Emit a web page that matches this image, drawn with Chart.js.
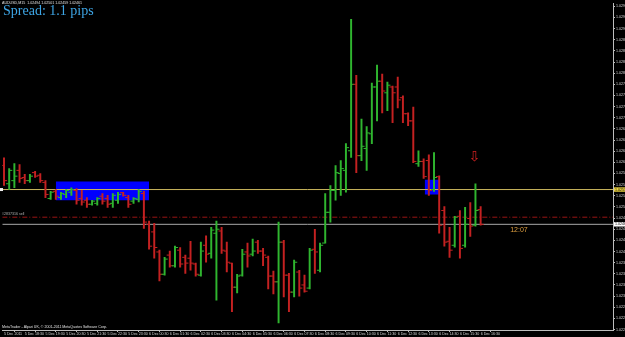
<!DOCTYPE html>
<html>
<head>
<meta charset="utf-8">
<script src="https://cdn.jsdelivr.net/npm/chart.js@4.4.1/dist/chart.umd.min.js"></script>
<style>
  html, body { margin: 0; padding: 0; background: #000; overflow: hidden; }
  #wrap { width: 625px; height: 337px; }
</style>
</head>
<body>
<div id="wrap"><canvas id="chart" width="625" height="337"></canvas></div>
<script>
// ── Data (AUDUSD M15, prices in points: 102461 = 1.02461) ─────────────

const timeLabels = [
  '5 Dec 2011', '5 Dec 18:30', '5 Dec 19:30', '5 Dec 20:30', '5 Dec 21:30', '5 Dec 22:30',
  '5 Dec 23:30', '6 Dec 00:30', '6 Dec 01:30', '6 Dec 02:30', '6 Dec 03:30', '6 Dec 04:30',
  '6 Dec 05:30', '6 Dec 06:30', '6 Dec 07:30', '6 Dec 08:30', '6 Dec 09:30', '6 Dec 10:30',
  '6 Dec 11:30', '6 Dec 12:30', '6 Dec 13:30', '6 Dec 14:30', '6 Dec 15:30', '6 Dec 16:30',
];
const timeTickBars = [0, 4, 8, 12, 16, 20, 24, 28, 32, 36, 40, 44, 48, 52, 56, 60, 64, 68, 72, 76, 80, 84, 88, 92];

const priceTicks = [
  102225, 102250, 102275, 102300, 102325, 102350, 102375, 102400, 102425, 102450,
  102475, 102500, 102525, 102550, 102575, 102600, 102625, 102650, 102675, 102700,
  102725, 102750, 102775, 102800, 102825, 102850, 102875, 102900, 102925, 102950,
];

const opens = [
  102593, 102552, 102559, 102582, 102566, 102559, 102577, 102571, 102555, 102519,
  102535, 102521, 102528, 102533, 102537, 102519, 102515, 102506, 102508, 102524,
  102519, 102508, 102515, 102532, 102521, 102513, 102517, 102530, 102461, 102444,
  102399, 102349, 102392, 102368, 102403, 102387, 102385, 102372, 102347, 102414,
  102396, 102441, 102446, 102401, 102374, 102320, 102347, 102399, 102394, 102421,
  102401, 102387, 102345, 102332, 102421, 102347, 102309, 102354, 102325, 102318,
  102405, 102358, 102419, 102488, 102537, 102575, 102582, 102626, 102775, 102615,
  102631, 102664, 102769, 102782, 102756, 102769, 102769, 102745, 102709, 102693,
  102597, 102602, 102604, 102539, 102568, 102492, 102423, 102414, 102479, 102414,
  102474, 102459, 102494,
];
const highs = [
  102610, 102586, 102597, 102595, 102573, 102573, 102580, 102575, 102559, 102535,
  102539, 102533, 102539, 102543, 102541, 102537, 102521, 102515, 102521, 102530,
  102526, 102530, 102533, 102533, 102526, 102521, 102539, 102535, 102468, 102463,
  102403, 102387, 102401, 102412, 102409, 102392, 102423, 102374, 102421, 102435,
  102454, 102468, 102454, 102421, 102374, 102349, 102405, 102419, 102428, 102425,
  102407, 102390, 102356, 102466, 102425, 102351, 102381, 102358, 102347, 102407,
  102450, 102419, 102530, 102548, 102593, 102604, 102642, 102921, 102795, 102697,
  102680, 102778, 102818, 102798, 102780, 102771, 102791, 102749, 102711, 102724,
  102626, 102608, 102617, 102622, 102570, 102501, 102454, 102479, 102492, 102499,
  102510, 102552, 102501,
];
const lows = [
  102548, 102539, 102543, 102555, 102552, 102555, 102566, 102555, 102521, 102517,
  102517, 102517, 102521, 102526, 102506, 102504, 102499, 102504, 102504, 102506,
  102499, 102499, 102508, 102524, 102499, 102508, 102511, 102452, 102405, 102385,
  102334, 102347, 102365, 102365, 102365, 102351, 102358, 102345, 102345, 102376,
  102385, 102291, 102396, 102354, 102265, 102307, 102345, 102365, 102390, 102396,
  102368, 102316, 102305, 102240, 102298, 102265, 102298, 102300, 102309, 102316,
  102351, 102354, 102419, 102466, 102515, 102526, 102533, 102611, 102577, 102604,
  102582, 102642, 102693, 102711, 102716, 102689, 102722, 102689, 102682, 102599,
  102591, 102564, 102526, 102535, 102441, 102412, 102387, 102410, 102385, 102410,
  102434, 102457, 102459,
];
const closes = [
  102559, 102582, 102569, 102564, 102559, 102569, 102569, 102559, 102528, 102533,
  102524, 102530, 102537, 102539, 102515, 102511, 102506, 102513, 102519, 102513,
  102506, 102526, 102528, 102526, 102506, 102519, 102535, 102466, 102412, 102409,
  102349, 102383, 102368, 102409, 102372, 102374, 102374, 102349, 102401, 102394,
  102448, 102450, 102403, 102376, 102320, 102345, 102394, 102390, 102401, 102401,
  102392, 102345, 102332, 102421, 102347, 102309, 102376, 102318, 102311, 102403,
  102399, 102414, 102488, 102537, 102577, 102586, 102633, 102775, 102615, 102636,
  102666, 102769, 102782, 102760, 102773, 102756, 102740, 102709, 102693, 102602,
  102602, 102568, 102537, 102566, 102459, 102421, 102403, 102477, 102407, 102461,
  102457, 102492, 102461,
];

// chart objects
const yellowLevel = 102539;
const bidLevel    = 102461;
const orderLevel  = 102477;
const rectA = { fromBar: 10, toBar: 28, top: 102557, bottom: 102515 };
const rectB = { fromBar: 81.2, toBar: 84.2, top: 102561, bottom: 102528 };
const arrowMark = { bar: 90.8, price: 102611 };
const timerMark = { bar: 97.7, price: 102448, text: '12:07' };

// ── Look ───────────────────────────────────────────────────

const GREEN = '#2fb52f';
const RED   = '#c42121';
const AXIS  = '#bdbdbd';
const X_MIN = -0.33;
const X_MAX = 117.55;
const TINY  = '3.6px "Liberation Sans", Arial, sans-serif';

const barColors = closes.map((c, i) => (c >= opens[i] ? GREEN : RED));
const fmtPrice = v => (v / 1e5).toFixed(5);

function rectDataset(r) {
  return {
    type: 'line',
    data: [{ x: r.fromBar, y: r.top }, { x: r.toBar, y: r.top }],
    borderWidth: 0,
    pointRadius: 0,
    backgroundColor: '#0000ff',
    fill: { value: r.bottom },
    order: 10,
  };
}

function levelDataset(level, color, dash) {
  return {
    type: 'line',
    data: [{ x: X_MIN, y: level }, { x: X_MAX, y: level }],
    borderColor: color,
    borderWidth: 1,
    borderDash: dash || [],
    pointRadius: 0,
    fill: false,
    order: 5,
  };
}

function tickDataset(values, shift) {
  return {
    type: 'line',
    showLine: false,
    data: values.map((v, i) => ({ x: i + shift, y: v })),
    pointStyle: 'line',
    pointRadius: 1.3,
    pointHoverRadius: 1.3,
    pointBorderWidth: 1,
    pointBorderColor: barColors,
    order: 1,
  };
}

// ── Overlay texts (MT4 labels) ─────────────────────────────

const overlay = {
  id: 'overlay',
  afterDraw(chart) {
    const { ctx, scales: { x, y }, chartArea } = chart;
    ctx.save();
    ctx.textBaseline = 'middle';
    ctx.textAlign = 'left';

    ctx.font = TINY;
    ctx.fillStyle = '#e0e0e0';
    ctx.fillText('AUDUSD,M15  ' + [opens[92], highs[92], lows[92], closes[92]].map(fmtPrice).join(' '), 2, 3);
    ctx.fillText('MetaTrader - Alpari UK, \u00a9 2001-2011 MetaQuotes Software Corp.', 2, 326.5);
    ctx.fillStyle = '#b0b0b0';
    ctx.fillText('#2837316 sell', 2, y.getPixelForValue(orderLevel) - 3);

    // small marker at the left end of the yellow line
    ctx.fillStyle = '#f0f0f0';
    ctx.fillRect(0, y.getPixelForValue(yellowLevel) - 1.5, 3, 3);

    ctx.font = '14px "Liberation Serif", "Times New Roman", serif';
    ctx.fillStyle = '#3ea6e6';
    ctx.textBaseline = 'alphabetic';
    ctx.fillText('Spread: 1.1 pips', 3, 15);

    ctx.textBaseline = 'middle';
    ctx.font = '7px "Liberation Sans", Arial, sans-serif';
    ctx.fillStyle = '#e0a040';
    ctx.fillText(timerMark.text, x.getPixelForValue(timerMark.bar), y.getPixelForValue(timerMark.price));

    ctx.font = '14px "DejaVu Sans", sans-serif';
    ctx.fillStyle = '#d02020';
    ctx.textAlign = 'center';
    ctx.fillText('\u21e9', x.getPixelForValue(arrowMark.bar), y.getPixelForValue(arrowMark.price));

    // price boxes on the right scale
    ctx.textAlign = 'left';
    ctx.font = TINY;
    [[yellowLevel, '#e8d040'], [bidLevel, '#ffffff']].forEach(([lvl, bg]) => {
      const py = y.getPixelForValue(lvl);
      ctx.fillStyle = bg;
      ctx.fillRect(chartArea.right + 1, py - 2.2, 12, 4.4);
      ctx.fillStyle = '#000';
      ctx.fillText(fmtPrice(lvl), chartArea.right + 2, py);
    });
    ctx.restore();
  },
};

// ── Chart ──────────────────────────────────────────────────

new Chart(document.getElementById('chart'), {
  type: 'bar',
  data: {
    datasets: [
      rectDataset(rectA),
      rectDataset(rectB),
      levelDataset(yellowLevel, '#c9b55c'),
      levelDataset(bidLevel, '#a8a8a8'),
      levelDataset(orderLevel, '#9c1414', [5, 2, 1, 2]),
      {
        type: 'bar',
        data: highs.map((h, i) => ({ x: i, y: [lows[i], h] })),
        backgroundColor: barColors,
        barThickness: 1.3,
        borderWidth: 0,
        grouped: false,
        order: 2,
      },
      tickDataset(opens, -0.35),
      tickDataset(closes, 0.35),
    ],
  },
  options: {
    responsive: false,
    devicePixelRatio: 1,
    animation: false,
    layout: { padding: { top: 2, left: 0, right: 0, bottom: 0 } },
    plugins: { legend: { display: false }, tooltip: { enabled: false } },
    scales: {
      x: {
        type: 'linear',
        min: X_MIN,
        max: X_MAX,
        offset: false,
        grid: { display: true, drawOnChartArea: false, drawTicks: true, tickLength: 2, color: AXIS },
        border: { display: true, color: AXIS },
        ticks: {
          autoSkip: false,
          maxRotation: 0,
          align: 'start',
          padding: 0,
          color: '#d8d8d8',
          font: { size: 3.6, family: '"Liberation Sans", Arial, sans-serif' },
          callback: v => timeLabels[timeTickBars.indexOf(v)],
        },
        afterBuildTicks: s => { s.ticks = timeTickBars.map(v => ({ value: v })); },
        afterFit: s => { s.height = 7; },
      },
      y: {
        type: 'linear',
        position: 'right',
        min: 102224,
        max: 102957,
        grid: { display: true, drawOnChartArea: false, drawTicks: true, tickLength: 2, color: AXIS },
        border: { display: true, color: AXIS },
        ticks: {
          padding: 1,
          color: '#d8d8d8',
          font: { size: 3.6, family: '"Liberation Sans", Arial, sans-serif' },
          callback: v => fmtPrice(v),
        },
        afterBuildTicks: s => { s.ticks = priceTicks.map(v => ({ value: v })); },
        afterFit: s => { s.width = 12; },
      },
    },
  },
  plugins: [overlay],
});
</script>
</body>
</html>
